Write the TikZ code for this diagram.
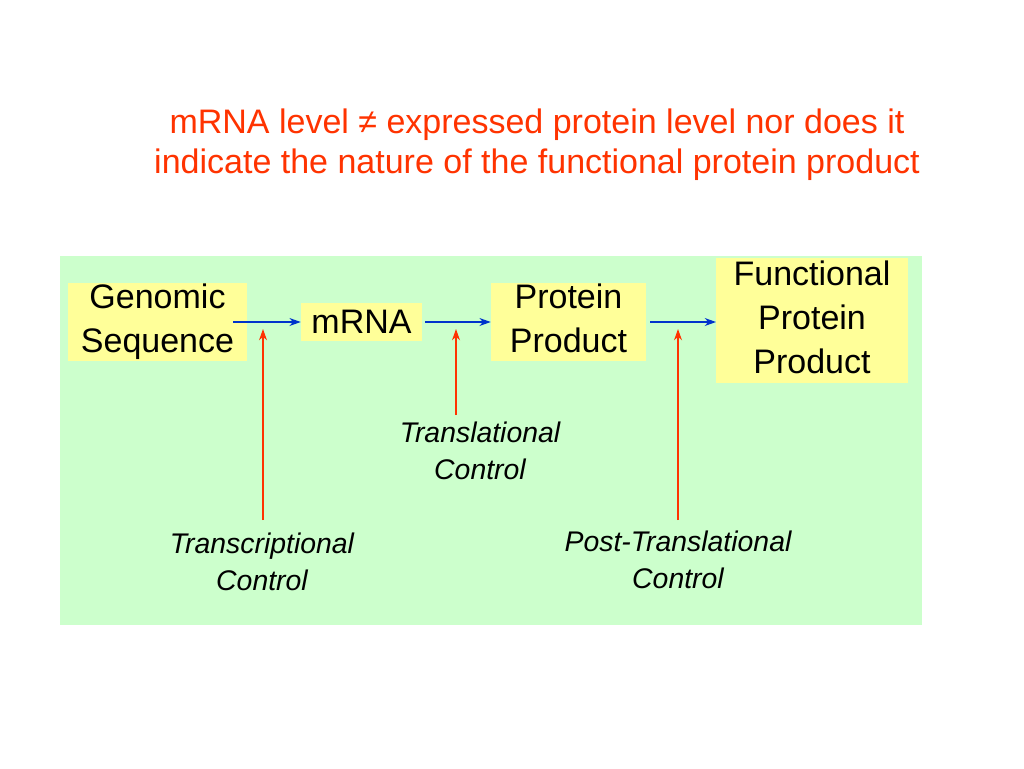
\documentclass[tikz,border=0pt]{standalone}
\usepackage{fontspec}
\setmainfont{Liberation Sans}
\usetikzlibrary{arrows.meta}
\definecolor{bgreen}{HTML}{CCFFCC}
\definecolor{byellow}{HTML}{FFFF99}
\definecolor{tred}{HTML}{FF3300}
\definecolor{ablue}{HTML}{0033CC}
\tikzset{
  box/.style={fill=byellow, draw=none, inner sep=0pt, align=center,
    font=\fontsize{25.5}{33}\selectfont},
  lbl/.style={align=center, inner sep=0pt, font=\fontsize{21.3}{28}\selectfont\itshape},
  flow/.style={draw=ablue, line width=1pt, -{Stealth[length=8.5pt,width=6pt]}},
  ctrl/.style={draw=tred, line width=1pt, -{Stealth[length=8.5pt,width=6pt]}},
}
\begin{document}
\begin{tikzpicture}[x=0.75pt,y=-0.75pt]
\useasboundingbox (0,0) rectangle (1024,768);
\fill[white] (0,0) rectangle (1024,768);
\node[align=center, text=tred, inner sep=0pt, font=\fontsize{25.5}{30}\selectfont] (title) at (537,145)
  {mRNA level ≠ expressed protein level nor does it\\indicate the nature of the functional protein product};
\fill[bgreen] (60,256) rectangle (922,625);
\node[box, minimum width=179*0.75pt, minimum height=78*0.75pt] (gs) at (157.5,322) {Genomic\\Sequence};
\node[box, minimum width=121*0.75pt, minimum height=38*0.75pt] (mrna) at (361.5,322) {mRNA};
\node[box, minimum width=155*0.75pt, minimum height=78*0.75pt] (pp) at (568.5,322) {Protein\\Product\vphantom{q}};
\node[box, minimum width=192*0.75pt, minimum height=125*0.75pt] (fpp) at (812,320.5) {Functional\\Protein\\Product\vphantom{q}};
\coordinate (a1s) at (233,322);
\coordinate (a2s) at (425,322);
\coordinate (a3s) at (650,322);
\coordinate (a3e) at (716,322);
\draw[flow] (a1s) -- (mrna.west);
\draw[flow] (a2s) -- (pp.west);
\draw[flow] (a3s) -- (a3e);
\node[lbl] (tc) at (262,562) {Transcriptional\\Control};
\node[lbl] (tlc) at (480,451) {Translational\\Control};
\node[lbl] (ptc) at (678,560) {Post-Translational\\Control};
\coordinate (c1s) at (263,520);
\coordinate (c1e) at (263,329);
\coordinate (c2s) at (456,415);
\coordinate (c2e) at (456,329);
\coordinate (c3s) at (678,520);
\coordinate (c3e) at (678,329);
\draw[ctrl] (c1s) -- (c1e);
\draw[ctrl] (c2s) -- (c2e);
\draw[ctrl] (c3s) -- (c3e);
\end{tikzpicture}
\end{document}
